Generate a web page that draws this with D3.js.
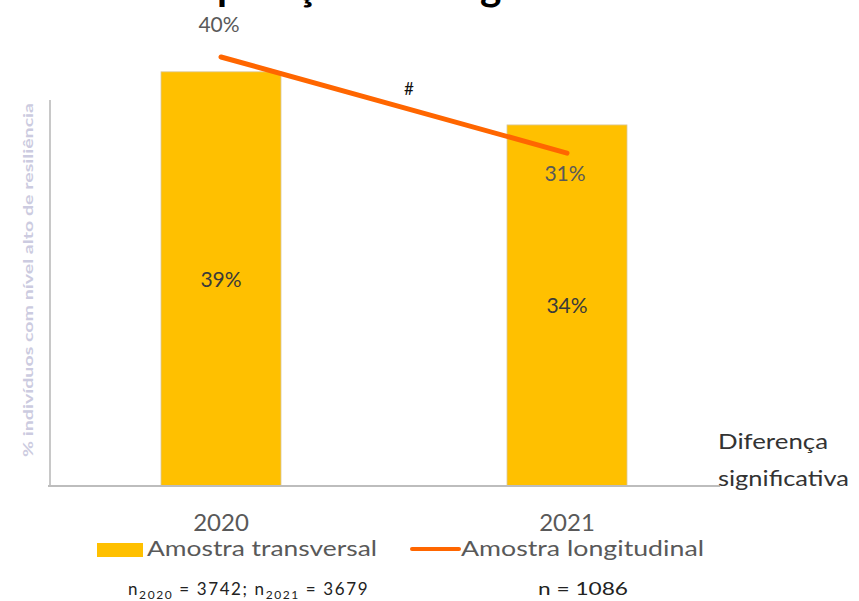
<!DOCTYPE html>
<html>
<head>
<meta charset="utf-8">
<script src="https://cdn.jsdelivr.net/npm/d3@7"></script>
<style>
  body { margin: 0; background: #fff; }
  svg text { font-family: Lato, "Open Sans", sans-serif; }
</style>
</head>
<body>
<div id="chart"></div>
<script>
// data
const years = ["2020", "2021"];
const transversal = [39, 34];      // bars
const longitudinal = [40, 31];     // line
const seriesNames = ["Amostra transversal", "Amostra longitudinal"];
const yTitle = "% indivíduos com nível alto de resiliência";
const titleText = "Comparação ao longo dos anos";

const W = 859, H = 601;
const svg = d3.select("#chart").append("svg")
    .attr("width", W)
    .attr("height", H);

// scales
const x = d3.scaleBand().domain(years).range([48, 740]).padding(0);
const barW = 120;
const y = d3.scaleLinear().domain([0, 40]).range([486, 61.2]);
const yLine = d3.scaleLinear().domain([0, 40]).range([484, 57]); // secondary axis, slightly offset

// title (cut off at the top, only descenders show)
const title = svg.append("text")
    .attr("y", 0)
    .attr("font-size", 40)
    .attr("font-weight", "bold")
    .attr("fill", "#000")
    .text(titleText);
let tn = title.node();
let gIdx = titleText.indexOf("g");
let span = tn.getStartPositionOfChar(gIdx).x - tn.getStartPositionOfChar(3).x;
title.attr("font-size", 40 * 263 / span);
title.attr("x", 217 - tn.getSubStringLength(0, 3));

// y axis line (left)
svg.append("line")
    .attr("x1", 50).attr("x2", 50)
    .attr("y1", 100).attr("y2", y(0))
    .attr("stroke", "#c8c8c8").attr("stroke-width", 2);

// y axis title
svg.append("text")
    .attr("transform", "translate(33," + 280 + ") rotate(-90)")
    .attr("text-anchor", "middle")
    .attr("font-size", 13)
    .attr("font-weight", "bold")
    .attr("fill", "#cccbe0")
    .attr("textLength", 354)
    .attr("lengthAdjust", "spacingAndGlyphs")
    .text(yTitle);

// bars
svg.selectAll(".bar")
    .data(transversal)
    .enter().append("rect")
    .attr("class", "bar")
    .attr("x", (d, i) => x(years[i]) + x.bandwidth() / 2 - barW / 2)
    .attr("width", barW)
    .attr("y", d => y(d))
    .attr("height", d => y(0) - y(d))
    .attr("fill", "#FFC000")
    .attr("stroke", "#d8c8a0")
    .attr("stroke-width", 0.8);

// bar labels
svg.selectAll(".barLabel")
    .data(transversal)
    .enter().append("text")
    .attr("class", "barLabel")
    .attr("x", (d, i) => x(years[i]) + x.bandwidth() / 2)
    .attr("y", d => (y(d) + y(0)) / 2 + 8)
    .attr("text-anchor", "middle")
    .attr("font-size", 21)
    .attr("fill", "#3a3a3a")
    .text(d => d + "%");

// x axis line
svg.append("line")
    .attr("x1", 48).attr("x2", 720)
    .attr("y1", y(0)).attr("y2", y(0))
    .attr("stroke", "#bdbdbd").attr("stroke-width", 2);

// x tick labels
svg.selectAll(".tick")
    .data(years)
    .enter().append("text")
    .attr("class", "tick")
    .attr("x", d => x(d) + x.bandwidth() / 2)
    .attr("y", 531)
    .attr("text-anchor", "middle")
    .attr("font-size", 24)
    .attr("fill", "#595959")
    .text(d => d);

// line series
const line = d3.line()
    .x((d, i) => x(years[i]) + x.bandwidth() / 2)
    .y(d => yLine(d));

svg.append("path")
    .datum(longitudinal)
    .attr("d", line)
    .attr("fill", "none")
    .attr("stroke", "#FF6600")
    .attr("stroke-width", 5)
    .attr("stroke-linecap", "round");

// line labels (first above, second below)
const lineLabelDy = [-25, 28];
svg.selectAll(".lineLabel")
    .data(longitudinal)
    .enter().append("text")
    .attr("class", "lineLabel")
    .attr("x", (d, i) => x(years[i]) + x.bandwidth() / 2 - 2)
    .attr("y", (d, i) => yLine(d) + lineLabelDy[i])
    .attr("text-anchor", "middle")
    .attr("font-size", 21)
    .attr("fill", "#595959")
    .text(d => d + "%");

// significance mark
svg.append("text")
    .attr("x", (x(years[0]) + x(years[1]) + x.bandwidth()) / 2 + 15)
    .attr("y", 95)
    .attr("text-anchor", "middle")
    .attr("font-size", 17)
    .attr("fill", "#111")
    .text("#");

svg.append("text")
    .attr("x", 718).attr("y", 449)
    .attr("font-size", 22)
    .attr("fill", "#333")
    .attr("textLength", 110)
    .attr("lengthAdjust", "spacingAndGlyphs")
    .text("Diferença");
svg.append("text")
    .attr("x", 718).attr("y", 486)
    .attr("font-size", 22)
    .attr("fill", "#333")
    .attr("textLength", 131)
    .attr("lengthAdjust", "spacingAndGlyphs")
    .text("significativa");

// legend
svg.append("rect")
    .attr("x", 97).attr("y", 543)
    .attr("width", 46).attr("height", 14)
    .attr("fill", "#FFC000");
svg.append("text")
    .attr("x", 147).attr("y", 556)
    .attr("font-size", 22)
    .attr("fill", "#595959")
    .attr("textLength", 230)
    .attr("lengthAdjust", "spacingAndGlyphs")
    .text(seriesNames[0]);
svg.append("line")
    .attr("x1", 412).attr("x2", 459)
    .attr("y1", 549).attr("y2", 549)
    .attr("stroke", "#FF6600").attr("stroke-width", 4)
    .attr("stroke-linecap", "round");
svg.append("text")
    .attr("x", 461).attr("y", 556)
    .attr("font-size", 22)
    .attr("fill", "#595959")
    .attr("textLength", 243)
    .attr("lengthAdjust", "spacingAndGlyphs")
    .text(seriesNames[1]);

// sample sizes
const nLeft = svg.append("text")
    .attr("x", 128).attr("y", 595)
    .attr("font-size", 17)
    .attr("letter-spacing", 1.6)
    .attr("fill", "#222");
nLeft.append("tspan").text("n");
nLeft.append("tspan").attr("dy", 4).attr("font-size", 12).text("2020");
nLeft.append("tspan").attr("dy", -4).text(" = 3742; n");
nLeft.append("tspan").attr("dy", 4).attr("font-size", 12).text("2021");
nLeft.append("tspan").attr("dy", -4).text(" = 3679");

svg.append("text")
    .attr("x", 538).attr("y", 595)
    .attr("font-size", 17)
    .attr("fill", "#222")
    .attr("textLength", 90)
    .attr("lengthAdjust", "spacingAndGlyphs")
    .text("n = 1086");
</script>
</body>
</html>
